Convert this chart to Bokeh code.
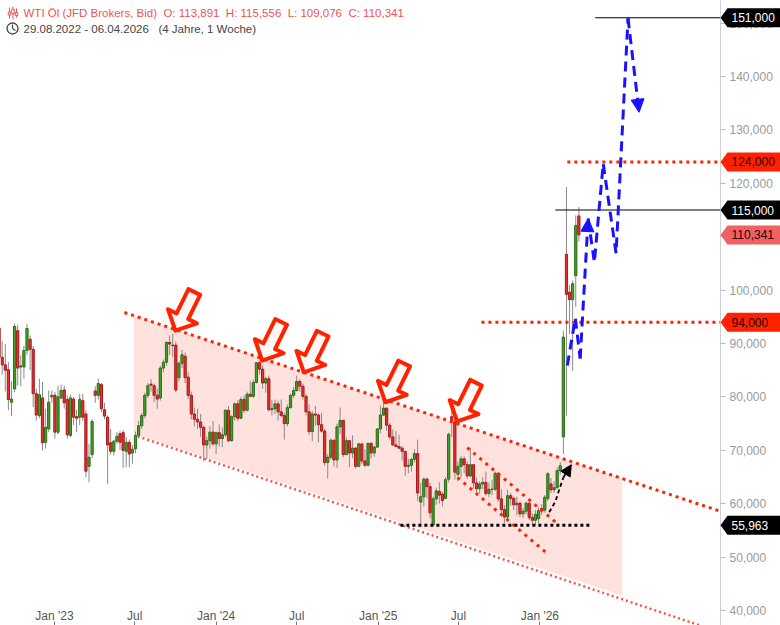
import pandas as pd
from bokeh.plotting import figure
from bokeh.models import (Range1d, FixedTicker, CustomJSTickFormatter, DatetimeAxis,
                          Arrow, NormalHead, ColumnDataSource)
from bokeh.core.properties import value
from bokeh.embed import file_html
from bokeh.resources import INLINE

# ---------------- data (weekly candles, WTI Oel, JFD Brokers, Bid) ----------------
first_week = "2022-08-29"

opens = [
    92.9, 87.4, 86.0, 85.1, 79.0, 81.5, 92.4, 85.6, 85.6, 88.7,
    90.8, 88.9, 80.6, 76.5, 79.8, 71.5, 74.0, 80.0, 80.3, 73.4,
    79.8, 81.3, 79.5, 72.8, 79.6, 76.3, 76.2, 79.3, 76.8, 67.0,
    69.2, 81.1, 80.3, 82.3, 77.6, 76.2, 71.4, 69.8, 71.7, 73.1,
    73.3, 69.8, 71.5, 69.5, 70.3, 72.8, 74.6, 76.5, 80.3, 82.4,
    82.1, 80.3, 79.8, 85.4, 86.5, 90.2, 89.6, 89.7, 83.6, 86.3,
    87.6, 83.7, 80.3, 76.8, 75.8, 75.3, 74.3, 71.0, 71.8, 73.4,
    71.2, 73.3, 72.2, 72.9, 77.5, 71.8, 76.3, 78.7, 76.0, 79.5,
    77.5, 80.5, 80.1, 82.7, 86.4, 85.2, 82.6, 83.4, 77.6, 77.8,
    78.7, 77.2, 76.5, 75.0, 78.0, 80.3, 81.2, 82.9, 82.0, 80.1,
    77.2, 73.5, 76.8, 76.6, 74.8, 73.6, 67.7, 68.7, 71.9, 68.2,
    74.4, 75.6, 69.2, 71.8, 69.5, 70.4, 67.0, 71.2, 68.0, 67.2,
    71.3, 69.5, 70.6, 74.0, 76.6, 77.9, 74.7, 72.5, 71.0, 70.7,
    70.4, 69.8, 67.0, 67.2, 68.3, 69.4, 60.3, 61.3, 64.6, 63.2,
    56.0, 60.9, 62.3, 61.8, 61.0, 64.6, 76.3, 75.3, 65.5, 67.0,
    68.4, 67.3, 65.2, 67.3, 63.9, 62.8, 63.7, 64.0, 61.9, 62.7,
    62.7, 65.7, 60.9, 58.9, 57.5, 61.5, 61.0, 59.8, 60.1, 58.1,
    58.6, 60.1, 57.4, 56.9, 57.2, 59.1, 58.8, 61.0, 63.7, 62.6,
    63.0, 66.2, 72.5, 106.7, 99.6, 98.2, 102.7, 113.891,
]
highs = [
    97.7, 90.4, 89.9, 86.5, 82.9, 93.7, 93.5, 87.8, 89.6, 93.7,
    91.5, 89.5, 81.5, 83.4, 82.8, 77.8, 81.2, 81.2, 80.9, 82.1,
    82.3, 82.1, 80.3, 80.4, 80.0, 77.6, 80.6, 80.6, 77.5, 71.2,
    75.9, 82.0, 83.4, 82.6, 78.9, 76.5, 74.0, 72.0, 73.4, 73.6,
    73.8, 72.5, 72.0, 71.0, 73.5, 75.5, 77.0, 80.8, 82.6, 83.3,
    82.5, 81.5, 85.8, 87.0, 90.4, 91.5, 91.8, 90.4, 86.6, 88.8,
    88.3, 84.6, 81.0, 78.0, 77.8, 76.8, 74.6, 72.6, 74.5, 75.5,
    73.5, 74.8, 74.3, 77.7, 78.3, 76.6, 79.0, 79.4, 80.0, 80.3,
    81.0, 83.0, 83.2, 86.5, 86.8, 85.9, 83.8, 84.0, 79.4, 79.5,
    79.3, 79.5, 77.0, 78.6, 80.6, 81.9, 84.0, 83.3, 82.5, 80.5,
    78.6, 77.4, 78.3, 76.9, 77.0, 74.0, 69.3, 72.2, 71.9, 75.0,
    78.0, 75.7, 72.5, 71.9, 72.8, 70.6, 71.4, 71.3, 70.2, 71.4,
    71.5, 70.8, 74.1, 78.4, 80.8, 78.0, 75.1, 73.9, 73.6, 72.9,
    70.8, 69.9, 68.4, 68.6, 70.2, 72.0, 63.9, 64.9, 64.9, 63.9,
    61.3, 63.0, 64.0, 62.2, 65.0, 73.3, 78.0, 78.4, 67.9, 69.0,
    68.9, 67.9, 70.5, 67.4, 64.9, 64.2, 65.0, 66.0, 64.0, 64.5,
    66.0, 65.9, 62.7, 59.7, 62.6, 62.0, 61.3, 61.3, 60.3, 59.2,
    60.4, 60.3, 58.2, 58.8, 59.3, 59.9, 61.6, 65.9, 64.8, 64.2,
    66.8, 67.8, 92.4, 119.3, 100.9, 101.8, 114.0, 115.556,
]
lows = [
    86.2, 84.2, 81.0, 77.5, 76.4, 80.9, 82.1, 82.0, 83.4, 87.8,
    85.0, 78.1, 75.6, 76.0, 70.0, 70.3, 73.4, 78.9, 72.2, 73.0,
    79.6, 77.8, 72.2, 72.5, 74.7, 73.4, 74.7, 75.5, 65.0, 64.0,
    68.5, 78.9, 79.5, 77.2, 75.8, 63.7, 69.2, 69.0, 71.2, 70.0,
    66.7, 66.8, 66.8, 67.5, 69.5, 72.3, 74.0, 76.0, 79.8, 81.0,
    79.0, 77.8, 79.3, 84.6, 85.8, 87.8, 87.5, 80.9, 82.9, 85.4,
    82.6, 79.6, 75.8, 74.5, 74.0, 72.5, 67.9, 68.3, 70.3, 70.8,
    69.3, 70.7, 70.6, 72.5, 71.5, 71.6, 75.6, 75.5, 75.9, 77.0,
    77.3, 80.0, 79.8, 82.5, 84.2, 81.5, 80.8, 77.3, 76.5, 76.8,
    75.6, 76.2, 72.0, 74.5, 77.8, 79.8, 81.0, 81.0, 79.5, 76.5,
    72.9, 71.7, 74.6, 71.5, 73.3, 67.1, 64.7, 68.3, 67.0, 66.7,
    73.0, 68.7, 69.1, 66.8, 68.5, 66.6, 66.8, 67.5, 66.9, 67.0,
    68.5, 68.8, 70.5, 73.2, 76.4, 73.6, 72.0, 70.9, 70.7, 70.3,
    68.1, 65.2, 65.7, 66.0, 67.7, 60.5, 55.6, 59.5, 61.0, 57.3,
    55.96, 59.8, 60.0, 59.5, 60.9, 64.0, 72.5, 64.5, 64.2, 64.9,
    65.7, 64.7, 65.0, 62.8, 61.9, 61.9, 62.7, 61.5, 61.2, 61.6,
    62.4, 60.4, 58.2, 56.4, 56.9, 59.6, 58.8, 57.8, 57.5, 57.3,
    58.0, 56.9, 56.0, 56.0, 56.3, 57.9, 58.3, 60.5, 62.0, 62.0,
    62.8, 65.5, 69.3, 76.5, 91.8, 84.9, 96.8, 109.076,
]
closes = [
    87.4, 86.0, 85.0, 79.5, 79.6, 93.2, 85.4, 85.8, 88.7, 92.8,
    88.9, 80.6, 76.6, 80.4, 71.4, 74.3, 79.0, 80.3, 73.4, 80.0,
    81.2, 78.9, 72.9, 79.8, 76.2, 76.0, 79.5, 76.2, 66.1, 68.7,
    75.4, 80.3, 82.5, 77.8, 76.4, 71.0, 69.8, 71.7, 72.6, 71.5,
    70.0, 71.5, 69.3, 70.2, 72.8, 74.6, 76.5, 80.3, 82.1, 82.2,
    80.3, 79.6, 85.4, 86.5, 90.2, 89.9, 89.7, 81.3, 86.3, 87.9,
    83.6, 80.3, 76.8, 75.8, 75.3, 74.3, 71.0, 71.8, 73.4, 71.2,
    73.3, 72.2, 72.9, 77.5, 71.8, 76.3, 78.7, 76.0, 79.5, 77.5,
    80.5, 80.1, 82.7, 86.4, 85.2, 82.6, 83.4, 77.6, 77.8, 78.7,
    77.2, 76.5, 75.0, 78.0, 80.3, 81.2, 82.9, 82.0, 80.1, 77.2,
    73.5, 76.8, 76.6, 74.8, 73.6, 67.7, 68.7, 71.9, 68.2, 74.4,
    75.6, 69.2, 71.8, 69.5, 70.4, 67.0, 71.2, 68.0, 67.2, 71.3,
    69.5, 70.6, 74.0, 76.6, 77.9, 74.7, 72.5, 71.0, 70.7, 70.4,
    69.8, 67.0, 67.2, 68.3, 69.4, 62.0, 61.3, 64.6, 63.2, 58.3,
    60.9, 62.4, 61.6, 60.6, 64.5, 73.0, 75.3, 65.9, 67.0, 68.4,
    67.3, 65.2, 67.3, 63.9, 62.8, 63.7, 64.0, 61.9, 62.7, 62.7,
    65.7, 60.9, 58.9, 57.5, 61.5, 61.0, 59.8, 60.1, 58.1, 58.6,
    60.1, 57.4, 56.9, 58.0, 58.7, 58.9, 61.2, 65.6, 62.6, 63.0,
    66.2, 67.1, 91.2, 99.2, 98.2, 101.2, 112.1, 110.341,
]

x_tick_dates = ["2023-01-01", "2023-07-01", "2024-01-01", "2024-07-01",
                "2025-01-01", "2025-07-01", "2026-01-01"]
x_tick_labels = ["Jan '23", "Jul", "Jan '24", "Jul", "Jan '25", "Jul", "Jan '26"]
y_ticks = [40, 50, 60, 70, 80, 90, 100, 110, 120, 130, 140, 150]
y_tick_labels = ["40,000", "50,000", "60,000", "70,000", "80,000", "90,000",
                 "100,000", "110,000", "120,000", "130,000", "140,000", "150,000"]

tag_prices = [151.0, 124.0, 115.0, 110.341, 94.0, 55.963]
tag_labels = ["151,000", "124,000", "115,000", "110,341", "94,000", "55,963"]
tag_fill = ["#000000", "#ff2200", "#000000", "#f06262", "#ff2200", "#000000"]
tag_text = ["#ffffff", "#1a0000", "#ffffff", "#2a0000", "#1a0000", "#ffffff"]

# drawings (date, price)
chan_top_dates = ["2023-06-08", "2027-02-08"]
chan_top_prices = [95.8, 58.7]
chan_low_dates = ["2023-07-08", "2026-12-29"]
chan_low_prices = [72.6, 37.2]
chan_fill_dates = ["2023-06-29", "2026-07-06", "2026-07-06", "2023-06-29"]
chan_fill_prices = [95.2, 64.7, 42.8, 73.1]
small_top_dates = ["2025-07-21", "2026-02-12"]
small_top_prices = [70.5, 56.1]
small_low_dates = ["2025-06-29", "2026-01-20"]
small_low_prices = [64.9, 50.5]
support_dates = ["2025-02-20", "2026-04-25"]
support_price = 55.963
res124_start, res124_price = "2026-03-04", 124.0
res94_start, res94_price = "2025-08-22", 94.0
line151_start, line151_price = "2026-05-06", 151.0
line115_start, line115_price = "2026-02-05", 115.0
arrow_tip_dates = ["2023-10-01", "2024-04-14", "2024-07-17", "2025-01-17", "2025-06-28"]
arrow_tip_prices = [92.4, 86.8, 84.6, 79.0, 75.4]
blue_dates = ["2026-03-04", "2026-03-22", "2026-04-02", "2026-04-20", "2026-05-04",
              "2026-05-24", "2026-06-22", "2026-07-19", "2026-08-13"]
blue_prices = [85.9, 94.7, 87.2, 113.4, 105.2, 123.7, 106.9, 150.9, 133.3]
curve_dates = ["2026-01-22", "2026-02-05", "2026-02-14", "2026-02-23", "2026-03-13"]
curve_prices = [58.4, 60.4, 62.7, 64.9, 67.3]

NB = "\u00a0"
title_text = ("WTI Öl (JFD Brokers, Bid)" + NB + " O: 113,891" + NB + " H: 115,556"
              + NB + " L: 109,076" + NB + " C: 110,341")
range_text = "29.08.2022 - 06.04.2026" + NB + NB + " (4 Jahre, 1 Woche)"

# ---------------- geometry helpers (reference pixel scale) ----------------
DAY_MS = 86400000.0
DAY0 = pd.Timestamp(first_week)
PXD = 0.4429      # px per day
XOFF = -1.4
PYU = 5.34        # px per price unit


def ms(d):
    return pd.Timestamp(d).value / 1e6


def ms_at(px):
    return ms(DAY0) + (px - XOFF) / PXD * DAY_MS


def price_at(py):
    return 40 + (610 - py) / PYU


def px_of(d):
    return (ms(d) - ms(DAY0)) / DAY_MS * PXD + XOFF


def py_of(price):
    return 610 - (price - 40) * PYU


FONT = value("Liberation Sans")

p = figure(width=780, height=625, x_axis_type="datetime", y_axis_location="right",
           x_range=Range1d(ms_at(0), ms_at(780)),
           y_range=Range1d(price_at(625), price_at(0)),
           output_backend="svg", toolbar_location=None, min_border=0,
           min_border_left=0, min_border_right=0, min_border_top=0, min_border_bottom=0)
p.grid.visible = False
p.outline_line_color = None
p.background_fill_color = "white"
p.border_fill_color = "white"

# ---- channel fill ----
p.patch([ms(d) for d in chan_fill_dates], chan_fill_prices, fill_color="#ffe1de",
        line_color=None)

# ---- candles ----
dates = pd.date_range(first_week, periods=len(closes), freq="7D")
up = [c >= o for o, c in zip(opens, closes)]
src = ColumnDataSource(dict(
    x=[ms(d) for d in dates], h=highs, l=lows,
    top=[max(o, c) for o, c in zip(opens, closes)],
    bottom=[min(o, c) for o, c in zip(opens, closes)],
    fill=["#44a12a" if u else "#e3342f" for u in up],
    line=["#2b6b14" if u else "#a8181a" for u in up],
))
p.segment(x0="x", y0="l", x1="x", y1="h", source=src, line_color="#8a8a8a", line_width=1)
p.vbar(x="x", width=5.0 * DAY_MS, top="top", bottom="bottom", fill_color="fill",
       line_color="line", line_width=1, source=src)

RED = "#ff2200"
# ---- channel lines ----
p.line([ms(d) for d in chan_low_dates], chan_low_prices, line_color="#ff3322",
       line_width=2.5, line_dash="2 3", line_alpha=0.85)
p.line([ms(d) for d in chan_top_dates], chan_top_prices, line_color=RED,
       line_width=3, line_dash="3 4")
p.line([ms(d) for d in small_top_dates], small_top_prices, line_color=RED,
       line_width=3, line_dash="3 5")
p.line([ms(d) for d in small_low_dates], small_low_prices, line_color=RED,
       line_width=3, line_dash="3 5")

# ---- horizontal levels ----
AX_MS = ms_at(720)
p.line([ms(d) for d in support_dates], [support_price] * 2, line_color="black",
       line_width=3, line_dash="3 3")
p.line([ms(res124_start), AX_MS], [res124_price] * 2, line_color=RED, line_width=3,
       line_dash="3 4")
p.line([ms(res94_start), AX_MS], [res94_price] * 2, line_color=RED, line_width=3,
       line_dash="3 4")
p.line([ms(line151_start), AX_MS], [line151_price] * 2, line_color="black", line_width=1)
p.line([ms(line115_start), AX_MS], [line115_price] * 2, line_color="black", line_width=1)

# ---- hollow red arrows ----
ux, uy = -0.44, 0.90
nx, ny = 0.90, 0.44
shape = [(0, 0), (-16, -16), (-16, -6.5), (-43, -6.5), (-43, 6.5), (-16, 6.5), (-16, 16)]
axs, ays = [], []
for d, pr in zip(arrow_tip_dates, arrow_tip_prices):
    tx, ty = px_of(d), py_of(pr)
    xs_, ys_ = [], []
    for a, b in shape:
        px_ = tx + a * ux + b * nx
        py_ = ty + a * uy + b * ny
        xs_.append(ms_at(px_))
        ys_.append(price_at(py_))
    axs.append(xs_)
    ays.append(ys_)
p.patches(axs, ays, fill_color="#fff0ee", fill_alpha=0.55, line_color=RED,
          line_width=4, line_join="round")

# ---- blue projected path ----
BLUE = "#1a12ff"
bx = [ms(d) for d in blue_dates]
p.line(bx[:3], blue_prices[:3], line_color=BLUE, line_width=3, line_dash="10 6")
p.line(bx[3:8], blue_prices[3:8], line_color=BLUE, line_width=3, line_dash="10 6")
p.add_layout(Arrow(end=NormalHead(size=13, fill_color=BLUE, line_color=BLUE),
                   x_start=bx[2], y_start=blue_prices[2], x_end=bx[3], y_end=blue_prices[3],
                   line_color=BLUE, line_width=3, line_dash="10 6"))
p.add_layout(Arrow(end=NormalHead(size=13, fill_color=BLUE, line_color=BLUE),
                   x_start=bx[7], y_start=blue_prices[7], x_end=bx[8], y_end=blue_prices[8],
                   line_color=BLUE, line_width=3, line_dash="10 6"))

# ---- black curved arrow ----
cx = [ms(d) for d in curve_dates]
p.line(cx[:4], curve_prices[:4], line_color="black", line_width=1.8, line_dash="4 3")
p.add_layout(Arrow(end=NormalHead(size=11, fill_color="black", line_color="black"),
                   x_start=cx[3], y_start=curve_prices[3], x_end=cx[4], y_end=curve_prices[4],
                   line_color="black", line_width=1.8, line_dash="4 3"))

# ---- price tags on the axis ----
txs, tys = [], []
for pr in tag_prices:
    py = py_of(pr)
    txs.append([ms_at(720), ms_at(727), ms_at(782), ms_at(782), ms_at(727)])
    tys.append([pr, price_at(py - 9.5), price_at(py - 9.5), price_at(py + 9.5),
                price_at(py + 9.5)])
p.patches(txs, tys, fill_color=tag_fill, line_color=None, level="overlay")
p.text([ms_at(731)] * len(tag_prices), tag_prices, text=tag_labels, text_color=tag_text,
       text_font=FONT, text_font_size="12px", text_baseline="middle", level="overlay")

# ---- header ----
icon_x = [ms_at(9), ms_at(12.5), ms_at(16)]
p.segment(icon_x, [price_at(y) for y in (7, 6, 8)], icon_x,
          [price_at(y) for y in (18, 19, 17)], line_color="#ef5350", line_width=1)
p.rect(icon_x, [price_at(y) for y in (13, 11, 13.5)], width=2.5, height=[3, 4.5, 3],
       width_units="screen", height_units="screen", fill_color="white",
       line_color="#ef5350", line_width=1)
p.text([ms_at(23)], [price_at(12.5)], text=[title_text], text_color="#ef5350",
       text_font=FONT, text_font_size="11.5px", text_baseline="middle")
p.scatter([ms_at(12)], [price_at(28)], marker="circle", size=11, fill_color=None,
          line_color="#444444", line_width=1.3)
p.segment([ms_at(12), ms_at(12)], [price_at(28), price_at(28)],
          [ms_at(12), ms_at(15)], [price_at(24), price_at(30)],
          line_color="#444444", line_width=1.2)
p.text([ms_at(23)], [price_at(28.5)], text=[range_text], text_color="#444444",
       text_font=FONT, text_font_size="11.5px", text_baseline="middle")

# ---- axes ----
xt = [ms(d) for d in x_tick_dates]
fmt_code = """
for (let i = 0; i < tv.length; i++) {
  if (Math.abs(tv[i] - tick) < tol) { return lb[i]; }
}
return "";
"""
xa = p.xaxis[0]
xa.ticker = FixedTicker(ticks=xt)
xa.formatter = CustomJSTickFormatter(args=dict(tv=xt, lb=x_tick_labels, tol=3600000.0),
                                     code=fmt_code)
xa.fixed_location = price_at(606)
xa.axis_line_color = None
xa.major_tick_in = 0
xa.major_tick_out = 0
xa.minor_tick_in = 0
xa.minor_tick_out = 0
xa.major_label_standoff = 2
xa.major_label_text_color = "#555555"
xa.major_label_text_font = "Liberation Sans"
xa.major_label_text_font_size = "12px"

xa2 = DatetimeAxis(ticker=FixedTicker(ticks=xt),
                   formatter=CustomJSTickFormatter(code='return "";'),
                   fixed_location=price_at(624.5), axis_line_color=None,
                   major_tick_in=4, major_tick_out=0, minor_tick_in=0, minor_tick_out=0,
                   major_tick_line_color="#777777")
p.add_layout(xa2, "below")

ya = p.yaxis[0]
ya.ticker = FixedTicker(ticks=y_ticks)
ya.formatter = CustomJSTickFormatter(args=dict(tv=y_ticks, lb=y_tick_labels, tol=1e-6),
                                     code=fmt_code)
ya.fixed_location = AX_MS
ya.axis_line_color = "#d0d0d0"
ya.major_tick_line_color = "#bbbbbb"
ya.major_tick_out = 5
ya.major_tick_in = 0
ya.minor_tick_in = 0
ya.minor_tick_out = 0
ya.major_label_standoff = 4
ya.major_label_text_color = "#9a9a9a"
ya.major_label_text_font = "Liberation Sans"
ya.major_label_text_font_size = "12px"

open("out.html", "w").write(file_html(p, INLINE))
